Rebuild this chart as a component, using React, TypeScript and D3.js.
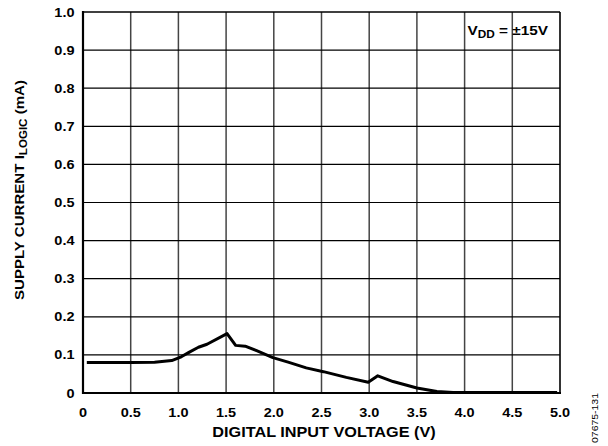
import React from "react";
import * as d3 from "d3";

const voltage = [0.04, 0.5, 0.75, 0.93, 1.03, 1.12, 1.21, 1.3, 1.51, 1.6, 1.7, 1.82, 1.99, 2.15, 2.34, 2.52, 2.76, 2.99, 3.09, 3.25, 3.5, 3.71, 3.88, 4.2, 4.97];
const current = [0.08, 0.08, 0.081, 0.085, 0.095, 0.108, 0.12, 0.128, 0.156, 0.125, 0.123, 0.111, 0.093, 0.081, 0.066, 0.056, 0.041, 0.028, 0.045, 0.03, 0.013, 0.004, 0.001, 0.001, 0.001];
const xTicks = [0, 0.5, 1.0, 1.5, 2.0, 2.5, 3.0, 3.5, 4.0, 4.5, 5.0];
const yTicks = [0, 0.1, 0.2, 0.3, 0.4, 0.5, 0.6, 0.7, 0.8, 0.9, 1.0];

const SX = 1.16;

export default function App() {
  const left = 83, right = 560, top = 12, bottom = 393;
  const x = d3.scaleLinear().domain([0, 5]).range([left, right]);
  const y = d3.scaleLinear().domain([0, 1]).range([bottom, top]);
  const pts = voltage.map((v, i) => [v, current[i]] as [number, number]);
  const line = d3.line<[number, number]>().x(d => x(d[0])).y(d => y(d[1]));
  const font = "'Liberation Sans', Arial, sans-serif";
  const fmt = (t: number) => (t === 0 ? "0" : t.toFixed(1));
  return (
    <svg width={608} height={446} style={{ position: "absolute", left: 0, top: 0 }} fontFamily={font}>
      <rect width={608} height={446} fill="#fff" />
      {xTicks.slice(1, -1).map(t => (
        <line key={"vx" + t} x1={x(t)} x2={x(t)} y1={top} y2={bottom} stroke="#444" strokeWidth={1.5} />
      ))}
      {yTicks.slice(1, -1).map(t => (
        <line key={"hy" + t} x1={left} x2={right} y1={y(t)} y2={y(t)} stroke="#000" strokeWidth={1.2} />
      ))}
      <line x1={left} x2={right} y1={top} y2={top} stroke="#000" strokeWidth={1.6} />
      <line x1={right} x2={right} y1={top} y2={bottom} stroke="#000" strokeWidth={1.6} />
      <line x1={left} x2={left} y1={top - 1} y2={bottom + 1} stroke="#000" strokeWidth={2.2} />
      <line x1={left - 1} x2={right + 1} y1={bottom} y2={bottom} stroke="#000" strokeWidth={2.2} />
      <path d={line(pts) || ""} fill="none" stroke="#000" strokeWidth={3} strokeLinejoin="round" />
      {xTicks.map(t => (
        <text key={"xt" + t} transform={`translate(${x(t)},417) scale(${SX},1)`} textAnchor="middle" fontSize={12.5} fontWeight="bold">
          {fmt(t)}
        </text>
      ))}
      {yTicks.map(t => (
        <text key={"yt" + t} transform={`translate(74.5,${y(t) + 4.5}) scale(${SX},1)`} textAnchor="end" fontSize={12.5} fontWeight="bold">
          {fmt(t)}
        </text>
      ))}
      <text transform={`translate(${x(2.5) + 2.5},437) scale(${SX},1)`} textAnchor="middle" fontSize={14} fontWeight="bold">DIGITAL INPUT VOLTAGE (V)</text>
      <text transform={`translate(23.5,190) rotate(-90) scale(${SX},1)`} textAnchor="middle" fontSize={13} fontWeight="bold">
        SUPPLY CURRENT I<tspan fontSize={10} dy={3}>LOGIC</tspan><tspan dy={-3}> (mA)</tspan>
      </text>
      <text transform={`translate(548,35) scale(1.18,1)`} textAnchor="end" fontSize={13} fontWeight="bold">
        V<tspan fontSize={10} dy={3}>DD</tspan><tspan dy={-3}> = ±15V</tspan>
      </text>
      <text transform={`translate(598,418) rotate(-90) scale(${SX},1)`} textAnchor="middle" fontSize={9}>07675-131</text>
    </svg>
  );
}
